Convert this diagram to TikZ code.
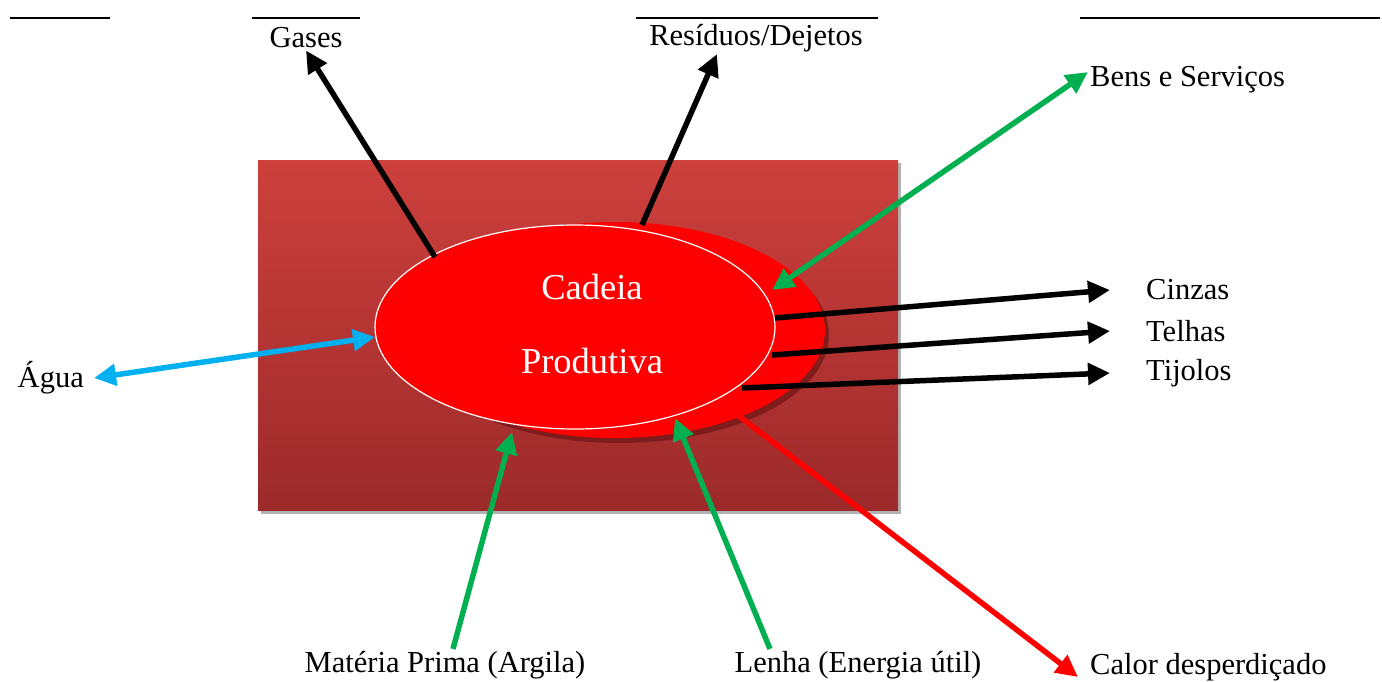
\documentclass[tikz,border=0pt]{standalone}
\usepackage{fontspec}
\setmainfont{Liberation Serif}
\usetikzlibrary{arrows.meta,shapes.geometric}

\definecolor{verde}{RGB}{0,176,80}
\definecolor{azul}{RGB}{0,176,240}
\definecolor{tijolotopo}{RGB}{205,64,60}
\definecolor{tijolobase}{RGB}{156,42,42}
\definecolor{sombra}{RGB}{110,20,20}

\begin{document}
\begin{tikzpicture}[x=1pt,y=-1pt,
	every node/.style={font=\fontsize{30.5}{36}\selectfont, inner sep=2pt},
	seta/.style={line width=5.5pt, -{Triangle[length=22pt,width=21pt]}},
	setadupla/.style={line width=5.5pt, {Triangle[length=22pt,width=21pt]}-{Triangle[length=22pt,width=21pt]}},
	regua/.style={line width=2pt}]
					\useasboundingbox (0,0) rectangle (1382,681);

					% linhas do topo
					\draw[regua] (10,18) -- (110,18);
					\draw[regua] (252,18) -- (360,18);
					\draw[regua] (636,18) -- (878,18);
					\draw[regua] (1080,18) -- (1380,18);

					% caixa de fundo
					\fill[gray!60] (261,163) rectangle (901,514);
					\shade[top color=tijolotopo, bottom color=tijolobase] (258,160) rectangle (898,510);

					% elipses
					\fill[sombra, opacity=.7] (619,335) ellipse [x radius=210, y radius=108];
					\node[ellipse, fill=red, minimum width=420pt, minimum height=216pt, inner sep=0] (fundo) at (615,330) {};
					\node[ellipse, draw=white, line width=1.2pt, fill=red, minimum width=400pt, minimum height=204pt, inner sep=0] (cadeia) at (575,327) {};
					\node[text=white, align=center, font=\fontsize{36.5}{42}\selectfont] (texto) at (592,324) {Cadeia\\[32pt]Produtiva};

					% rotulos
					\node (gases) at (306,38) {Gases};
					\node (residuos) at (756,38) {Resíduos/Dejetos};
					\node[anchor=west] (bens) at (1088,80) {Bens e Serviços};
					\node[anchor=west] (cinzas) at (1144,290) {Cinzas};
					\node[anchor=west] (telhas) at (1144,331) {Telhas};
					\node[anchor=west] (tijolos) at (1144,373) {Tijolos};
					\node[anchor=east] (agua) at (86,378) {Água};
					\node (materia) at (445,665) {Matéria Prima (Argila)};
					\node (lenha) at (858,665) {Lenha (Energia útil)};
					\node[anchor=west] (calor) at (1088,667) {Calor desperdiçado};

					% pontos na elipse
					\coordinate (gasessai) at (435,257);
					\coordinate (residuossai) at (642,225);
					\coordinate (bensentra) at (772,290);
					\coordinate (cinzassai) at (775,318);
					\coordinate (telhassai) at (772,355);
					\coordinate (tijolossai) at (742,388);
					\coordinate (aguaentra) at (375,337);
					\coordinate (materiaentra) at (512,432);
					\coordinate (lenhaentra) at (675,418);
					\coordinate (calorsai) at (735,413);

					\draw[seta] (gasessai) -- (gases.south);
					\draw[seta] (residuossai) -- ([xshift=-39pt]residuos.south);
					\draw[setadupla, verde] (bensentra) -- ([yshift=8pt]bens.west);
					\draw[seta] (cinzassai) -- ([xshift=-34pt]cinzas.west);
					\draw[seta] (telhassai) -- ([xshift=-34pt]telhas.west);
					\draw[seta] (tijolossai) -- ([xshift=-34pt]tijolos.west);
					\draw[setadupla, azul] ([xshift=8pt]agua.east) -- (aguaentra);
					\draw[seta, verde] ([xshift=8pt]materia.north) -- (materiaentra);
					\draw[seta, verde] ([xshift=-88pt]lenha.north) -- (lenhaentra);
					\draw[seta, red] (calorsai) -- ([xshift=-10pt,yshift=-10pt]calor.west);
\end{tikzpicture}
\end{document}
